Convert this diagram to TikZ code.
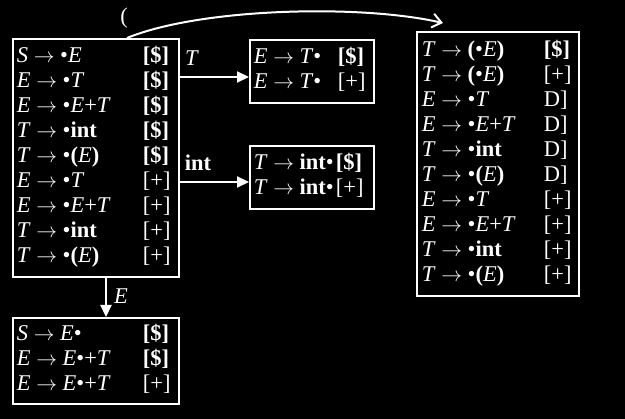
\documentclass[tikz,border=0pt]{standalone}
\usepackage{fontspec}
\setmainfont{Liberation Serif}
\usetikzlibrary{arrows.meta,calc}
\newcommand\myar{\ensuremath{\rightarrow}}
\newcommand\iE{\textit{E}}
\newcommand\iT{\textit{T}}
\newcommand\iS{\textit{S}}
\newcommand\bint{\textbf{int}}
\newcommand\bd{\textbf{[\$]}}
\newcommand\pl{[+]}
\newcommand\lp{\textbf{(}}
\newcommand\rp{\textbf{)}}
\begin{document}
\begin{tikzpicture}[x=1pt,y=-1pt,
  box/.style={draw=white,line width=1.8pt,inner xsep=4pt,inner ysep=6.5pt,anchor=north west,text=white,font=\fontsize{22.5}{25}\selectfont},
  lbl/.style={text=white,font=\fontsize{22.5}{25}\selectfont,inner sep=0pt},
  arr/.style={draw=white,line width=2.2pt,-{Triangle[length=12pt,width=11pt]}},
  carr/.style={draw=white,line width=2pt,-{Straight Barb[length=9pt,width=14pt]}}]
\fill[black] (0,0) rectangle (625,419);
\node[box] (main) at (12,38) {\begin{tabular}{@{}p{126pt}@{}p{32pt}@{}}
\iS\ \myar\ •\iE & \bd\\
\iE\ \myar\ •\iT & \bd\\
\iE\ \myar\ •\iE+\iT & \bd\\
\iT\ \myar\ •\bint & \bd\\
\iT\ \myar\ •\lp\iE\rp & \bd\\
\iE\ \myar\ •\iT & \pl\\
\iE\ \myar\ •\iE+\iT & \pl\\
\iT\ \myar\ •\bint & \pl\\
\iT\ \myar\ •\lp\iE\rp & \pl
\end{tabular}};
\node[box] (tbox) at (249,39) {\begin{tabular}{@{}p{84pt}@{}p{32pt}@{}}
\iE\ \myar\ \iT• & \bd\\
\iE\ \myar\ \iT• & \pl
\end{tabular}};
\node[box] (ibox) at (249,145) {\begin{tabular}{@{}p{82pt}@{}p{34pt}@{}}
\iT\ \myar\ \bint• & \bd\\
\iT\ \myar\ \bint• & \pl
\end{tabular}};
\node[box,inner xsep=5pt,inner ysep=7pt] (rbox) at (416,31) {\begin{tabular}{@{}p{122pt}@{}p{30pt}@{}}
\iT\ \myar\ \lp•\iE\rp & \bd\\
\iT\ \myar\ \lp•\iE\rp & \pl\\
\iE\ \myar\ •\iT & D]\\
\iE\ \myar\ •\iE+\iT & D]\\
\iT\ \myar\ •\bint & D]\\
\iT\ \myar\ •\lp\iE\rp & D]\\
\iE\ \myar\ •\iT & \pl\\
\iE\ \myar\ •\iE+\iT & \pl\\
\iT\ \myar\ •\bint & \pl\\
\iT\ \myar\ •\lp\iE\rp & \pl
\end{tabular}};
\node[box,inner ysep=5.5pt] (bbox) at (12,317) {\begin{tabular}{@{}p{126pt}@{}p{32pt}@{}}
\iS\ \myar\ \iE• & \bd\\
\iE\ \myar\ \iE•+\iT & \bd\\
\iE\ \myar\ \iE•+\iT & \pl
\end{tabular}};
\coordinate (ty) at (0,77);
\coordinate (iy) at (0,182);
\coordinate (ex) at (106,0);
\coordinate (cs) at (127,38);
\coordinate (ce) at (443,23);
\draw[arr] (main.east |- ty) -- (tbox.west |- ty);
\draw[arr] (main.east |- iy) -- (ibox.west |- iy);
\draw[arr] (main.south -| ex) -- (bbox.north -| ex);
\draw[carr] (cs) .. controls (200,8) and (360,4) .. (ce);
\node[lbl] (lt) at (192,58) {\iT};
\node[lbl] (li) at (198,163) {\bint};
\node[lbl] (le) at (121,296) {\iE};
\node[lbl] (lp) at (124,18) {(};
\end{tikzpicture}
\end{document}
